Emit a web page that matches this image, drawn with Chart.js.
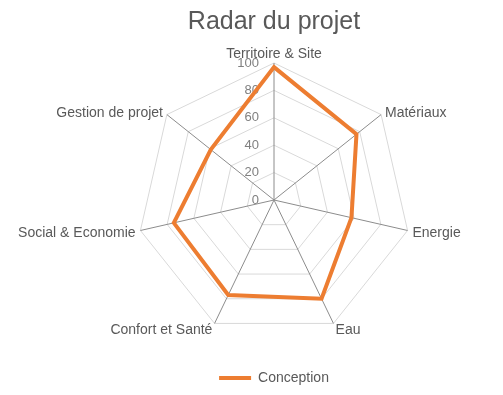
<!DOCTYPE html>
<html lang="fr">
<head>
    <meta charset="UTF-8">
    <title>Radar du projet</title>
    <script src="https://cdn.jsdelivr.net/npm/chart.js"></script>
    <style>
        html, body { margin: 0; padding: 0; background: #fff; }
        #wrap { width: 503px; height: 395px; }
    </style>
</head>
<body>
    <div id="wrap"><canvas id="radar"></canvas></div>

    <script>
        const axes = ['Territoire & Site', 'Matériaux', 'Energie', 'Eau', 'Confort et Santé', 'Social & Economie', 'Gestion de projet'];
        const conception = [97, 77, 58, 80, 77, 75, 59];
        const tickValues = [0, 20, 40, 60, 80, 100];

        const FONT = '"Liberation Sans", Arial, sans-serif';

        // Excel puts the scale numbers just left of the vertical axis
        // and centres the axis names vertically on their spoke
        const excelLabels = {
            id: 'excelLabels',
            beforeDatasetsDraw(chart) {
                const s = chart.scales.r;
                const ctx = chart.ctx;
                ctx.save();

                ctx.font = '13px ' + FONT;
                ctx.fillStyle = '#808080';
                ctx.textAlign = 'right';
                ctx.textBaseline = 'middle';
                tickValues.forEach(v => {
                    const d = s.getDistanceFromCenterForValue(v);
                    ctx.fillText(String(v), s.xCenter - 15, s.yCenter - d);
                });

                ctx.font = '14px ' + FONT;
                ctx.fillStyle = '#595959';
                chart.data.labels.forEach((name, i) => {
                    const p = s.getPointPosition(i, s.drawingArea + 5);
                    const deg = Math.round(s.getIndexAngle(i) * 180 / Math.PI) % 360;
                    if (deg === 0) {
                        ctx.textAlign = 'center';
                        ctx.textBaseline = 'bottom';
                        ctx.fillText(name, p.x, p.y + 3);
                    } else {
                        ctx.textAlign = deg < 180 ? 'left' : 'right';
                        ctx.textBaseline = 'middle';
                        ctx.fillText(name, p.x, p.y + 2);
                    }
                });
                ctx.restore();
            }
        };

        new Chart(document.getElementById('radar'), {
            type: 'radar',
            data: {
                labels: axes,
                datasets: [{
                    label: 'Conception',
                    data: conception,
                    borderColor: '#ed7d31',
                    backgroundColor: '#ed7d31',
                    borderWidth: 4,
                    fill: false,
                    pointRadius: 0,
                    pointHoverRadius: 0,
                    tension: 0
                }]
            },
            options: {
                responsive: true,
                maintainAspectRatio: false,
                animation: false,
                layout: { padding: { left: 137, right: 92, top: 0, bottom: 0 } },
                scales: {
                    r: {
                        min: 0,
                        max: 100,
                        ticks: { stepSize: 20, display: false },
                        grid: { color: '#d9d9d9', lineWidth: 1 },
                        angleLines: { color: '#8c8c8c', lineWidth: 1 },
                        pointLabels: { display: false }
                    }
                },
                plugins: {
                    title: {
                        display: true,
                        text: 'Radar du projet',
                        color: '#595959',
                        font: { family: FONT, size: 25, weight: 'normal' },
                        padding: { top: 7, bottom: 0 }
                    },
                    legend: {
                        position: 'bottom',
                        labels: {
                            color: '#595959',
                            font: { family: FONT, size: 14 },
                            usePointStyle: true,
                            pointStyle: 'line',
                            pointStyleWidth: 32,
                            padding: 8
                        }
                    },
                    tooltip: { enabled: false }
                }
            },
            plugins: [excelLabels]
        });
    </script>
</body>
</html>
